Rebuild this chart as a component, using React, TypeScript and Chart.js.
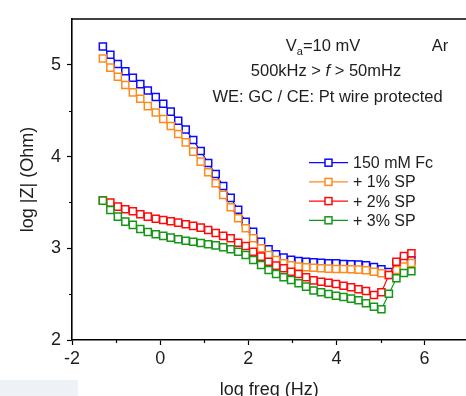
import React, { useEffect, useRef } from "react";
import { Chart, registerables } from "chart.js";

Chart.register(...registerables);

const FONT = "'Liberation Sans', Arial, Helvetica, sans-serif";
const TEXT = "#1e1e1e";

// log frequency (Hz), 500 kHz .. 50 mHz
const logFreq: number[] = [
  -1.30, -1.13, -0.96, -0.79, -0.62, -0.45, -0.28, -0.10, 0.07, 0.24,
  0.41, 0.58, 0.75, 0.92, 1.09, 1.26, 1.43, 1.60, 1.77, 1.94,
  2.11, 2.29, 2.46, 2.63, 2.80, 2.97, 3.14, 3.31, 3.48, 3.65,
  3.82, 3.99, 4.16, 4.33, 4.50, 4.67, 4.85, 5.02, 5.19, 5.36,
  5.53, 5.70,
];

const fc150: number[] = [
  5.20, 5.11, 5.01, 4.93, 4.86, 4.79, 4.72, 4.65, 4.575, 4.49,
  4.39, 4.295, 4.18, 4.06, 3.93, 3.81, 3.68, 3.55, 3.42, 3.29,
  3.18, 3.07, 2.99, 2.935, 2.90, 2.875, 2.862, 2.854, 2.848, 2.843,
  2.837, 2.836, 2.829, 2.826, 2.822, 2.815, 2.796, 2.771, 2.74, 2.83,
  2.86, 2.87,
];

const sp1: number[] = [
  5.07, 4.97, 4.87, 4.78, 4.70, 4.63, 4.55, 4.48, 4.41, 4.334,
  4.247, 4.155, 4.054, 3.945, 3.829, 3.709, 3.582, 3.448, 3.328, 3.218,
  3.109, 3.00, 2.927, 2.873, 2.837, 2.815, 2.80, 2.793, 2.787, 2.782,
  2.778, 2.775, 2.775, 2.771, 2.767, 2.76, 2.745, 2.728, 2.709, 2.764,
  2.80, 2.84,
];

const sp2: number[] = [
  3.52, 3.498, 3.454, 3.426, 3.404, 3.371, 3.345, 3.323, 3.309, 3.295,
  3.28, 3.262, 3.244, 3.225, 3.20, 3.167, 3.135, 3.109, 3.061, 3.025,
  2.963, 2.909, 2.854, 2.811, 2.782, 2.745, 2.72, 2.684, 2.65, 2.636,
  2.625, 2.611, 2.592, 2.575, 2.553, 2.535, 2.491, 2.52, 2.709, 2.854,
  2.916, 2.946,
];

const sp3: number[] = [
  3.52, 3.418, 3.345, 3.291, 3.255, 3.211, 3.178, 3.153, 3.135, 3.116,
  3.098, 3.083, 3.072, 3.058, 3.044, 3.032, 3.011, 2.989, 2.963, 2.927,
  2.873, 2.818, 2.764, 2.72, 2.684, 2.655, 2.618, 2.582, 2.54, 2.52,
  2.502, 2.483, 2.469, 2.451, 2.433, 2.40, 2.363, 2.335, 2.505, 2.673,
  2.731, 2.749,
];

const seriesLabels: string[] = ["150 mM Fc", "+ 1% SP", "+ 2% SP", "+ 3% SP"];
const seriesColors: string[] = ["#0a0aff", "#ff8a1c", "#ff0a0a", "#169616"];
const seriesValues: number[][] = [fc150, sp1, sp2, sp3];

const xMajorTicks: number[] = [-2, 0, 2, 4, 6];
const xMinorTicks: number[] = [-1, 1, 3, 5];
const yMajorTicks: number[] = [2, 3, 4, 5];
const yMinorTicks: number[] = [2.5, 3.5, 4.5];

const decorPlugin = {
  id: "decor",
  afterDraw(chart: any) {
    const ctx: CanvasRenderingContext2D = chart.ctx;
    const { left, right, top, bottom } = chart.chartArea;
    const xs = chart.scales.x;
    const ys = chart.scales.y;
    ctx.save();
    // top frame line
    ctx.strokeStyle = "#000";
    ctx.lineWidth = 1.6;
    ctx.beginPath();
    ctx.moveTo(left, top);
    ctx.lineTo(right + 2, top);
    ctx.stroke();
    // minor ticks
    ctx.lineWidth = 1.2;
    ctx.beginPath();
    xMinorTicks.forEach((v) => {
      const px = Math.round(xs.getPixelForValue(v)) + 0.5;
      ctx.moveTo(px, bottom);
      ctx.lineTo(px, bottom + 3);
    });
    yMinorTicks.forEach((v) => {
      const py = Math.round(ys.getPixelForValue(v)) + 0.5;
      ctx.moveTo(left, py);
      ctx.lineTo(left - 3, py);
    });
    ctx.stroke();

    // annotations
    ctx.fillStyle = TEXT;
    ctx.textBaseline = "alphabetic";
    const big = `16.5px ${FONT}`;
    const small = `11px ${FONT}`;
    const ital = `italic 16.5px ${FONT}`;

    // V_a=10 mV
    ctx.font = big;
    const wV = ctx.measureText("V").width;
    const wRest = ctx.measureText("=10 mV").width;
    ctx.font = small;
    const wA = ctx.measureText("a").width;
    let x0 = 323 - (wV + wA + wRest) / 2;
    ctx.textAlign = "left";
    ctx.font = big;
    ctx.fillText("V", x0, 51);
    ctx.font = small;
    ctx.fillText("a", x0 + wV, 55);
    ctx.font = big;
    ctx.fillText("=10 mV", x0 + wV + wA, 51);

    // Ar
    ctx.textAlign = "center";
    ctx.fillText("Ar", 440, 51);

    // 500kHz > f > 50mHz
    ctx.textAlign = "left";
    ctx.font = big;
    const p1 = "500kHz > ";
    const p3 = " > 50mHz";
    const w1 = ctx.measureText(p1).width;
    const w3 = ctx.measureText(p3).width;
    ctx.font = ital;
    const w2 = ctx.measureText("f").width;
    x0 = 326 - (w1 + w2 + w3) / 2;
    ctx.font = big;
    ctx.fillText(p1, x0, 75.5);
    ctx.font = ital;
    ctx.fillText("f", x0 + w1, 75.5);
    ctx.font = big;
    ctx.fillText(p3, x0 + w1 + w2, 75.5);

    // WE line
    ctx.textAlign = "center";
    ctx.fillText("WE: GC / CE: Pt wire protected", 327.5, 102);

    // legend
    const legY = [162.7, 181.9, 201.1, 220.3];
    seriesLabels.forEach((lab, i) => {
      const y = legY[i];
      ctx.strokeStyle = seriesColors[i];
      ctx.lineWidth = 1.2;
      ctx.beginPath();
      ctx.moveTo(309, y);
      ctx.lineTo(348, y);
      ctx.stroke();
      ctx.fillStyle = "#fff";
      ctx.fillRect(325, y - 3.5, 7, 7);
      ctx.lineWidth = 1.5;
      ctx.strokeRect(325, y - 3.5, 7, 7);
      ctx.fillStyle = TEXT;
      ctx.font = `16px ${FONT}`;
      ctx.textAlign = "left";
      ctx.fillText(lab, 353, y + 5.5);
    });
    ctx.restore();
  },
};

export default function App() {
  const ref = useRef<HTMLCanvasElement>(null);

  useEffect(() => {
    if (!ref.current) return;
    const datasets = seriesValues.map((vals, i) => ({
      label: seriesLabels[i],
      data: vals.map((v, k) => ({ x: logFreq[k], y: v })),
      borderColor: seriesColors[i],
      backgroundColor: seriesColors[i],
      borderWidth: 1.2,
      pointStyle: "rect" as const,
      pointRadius: 5,
      pointBorderWidth: 1.5,
      pointBorderColor: seriesColors[i],
      pointBackgroundColor: "#ffffff",
      tension: 0,
      fill: false,
      order: 4 - i,
    }));

    const chart = new Chart(ref.current, {
      type: "line",
      data: { datasets },
      options: {
        animation: false,
        responsive: false,
        maintainAspectRatio: false,
        layout: { padding: { top: 19, right: 0, left: 0, bottom: 0 } },
        plugins: {
          legend: { display: false },
          tooltip: { enabled: false },
        },
        scales: {
          x: {
            type: "linear",
            min: -2,
            max: 6.95,
            afterBuildTicks: (s: any) => {
              s.ticks = xMajorTicks.map((v) => ({ value: v }));
            },
            afterFit: (s: any) => {
              s.height = 56;
            },
            grid: {
              drawOnChartArea: false,
              drawTicks: true,
              tickLength: 5,
              tickColor: "#000",
              tickWidth: 1.2,
            },
            border: { display: true, color: "#000", width: 1.6 },
            ticks: {
              font: { family: FONT, size: 18 },
              color: TEXT,
              padding: 3,
              maxRotation: 0,
              autoSkip: false,
              callback: (v: any) => String(v),
            },
            title: {
              display: true,
              text: "log freq (Hz)",
              font: { family: FONT, size: 18, lineHeight: 1 },
              color: TEXT,
              padding: { top: 0, bottom: -3 },
            },
          },
          y: {
            type: "linear",
            min: 2,
            max: 5.5,
            afterBuildTicks: (s: any) => {
              s.ticks = yMajorTicks.map((v) => ({ value: v }));
            },
            afterFit: (s: any) => {
              s.width = 72;
            },
            grid: {
              drawOnChartArea: false,
              drawTicks: true,
              tickLength: 5,
              tickColor: "#000",
              tickWidth: 1.2,
            },
            border: { display: true, color: "#000", width: 1.6 },
            ticks: {
              font: { family: FONT, size: 18 },
              color: TEXT,
              padding: 6,
              autoSkip: false,
              callback: (v: any) => String(v),
            },
            title: {
              display: true,
              text: "log |Z| (Ohm)",
              font: { family: FONT, size: 18, lineHeight: 1 },
              color: TEXT,
              padding: { top: 19, bottom: 0 },
            },
          },
        },
      },
      plugins: [decorPlugin],
    });
    return () => chart.destroy();
  }, []);

  return (
    <div
      style={{
        position: "fixed",
        left: 0,
        top: 0,
        width: 466,
        height: 396,
        background: "#ffffff",
        overflow: "hidden",
      }}
    >
      <canvas
        ref={ref}
        width={473}
        height={396}
        style={{ display: "block", width: 473, height: 396 }}
      />
      <div
        style={{
          position: "absolute",
          left: 0,
          top: 380,
          width: 78,
          height: 16,
          background: "#eef1f6",
        }}
      />
    </div>
  );
}
